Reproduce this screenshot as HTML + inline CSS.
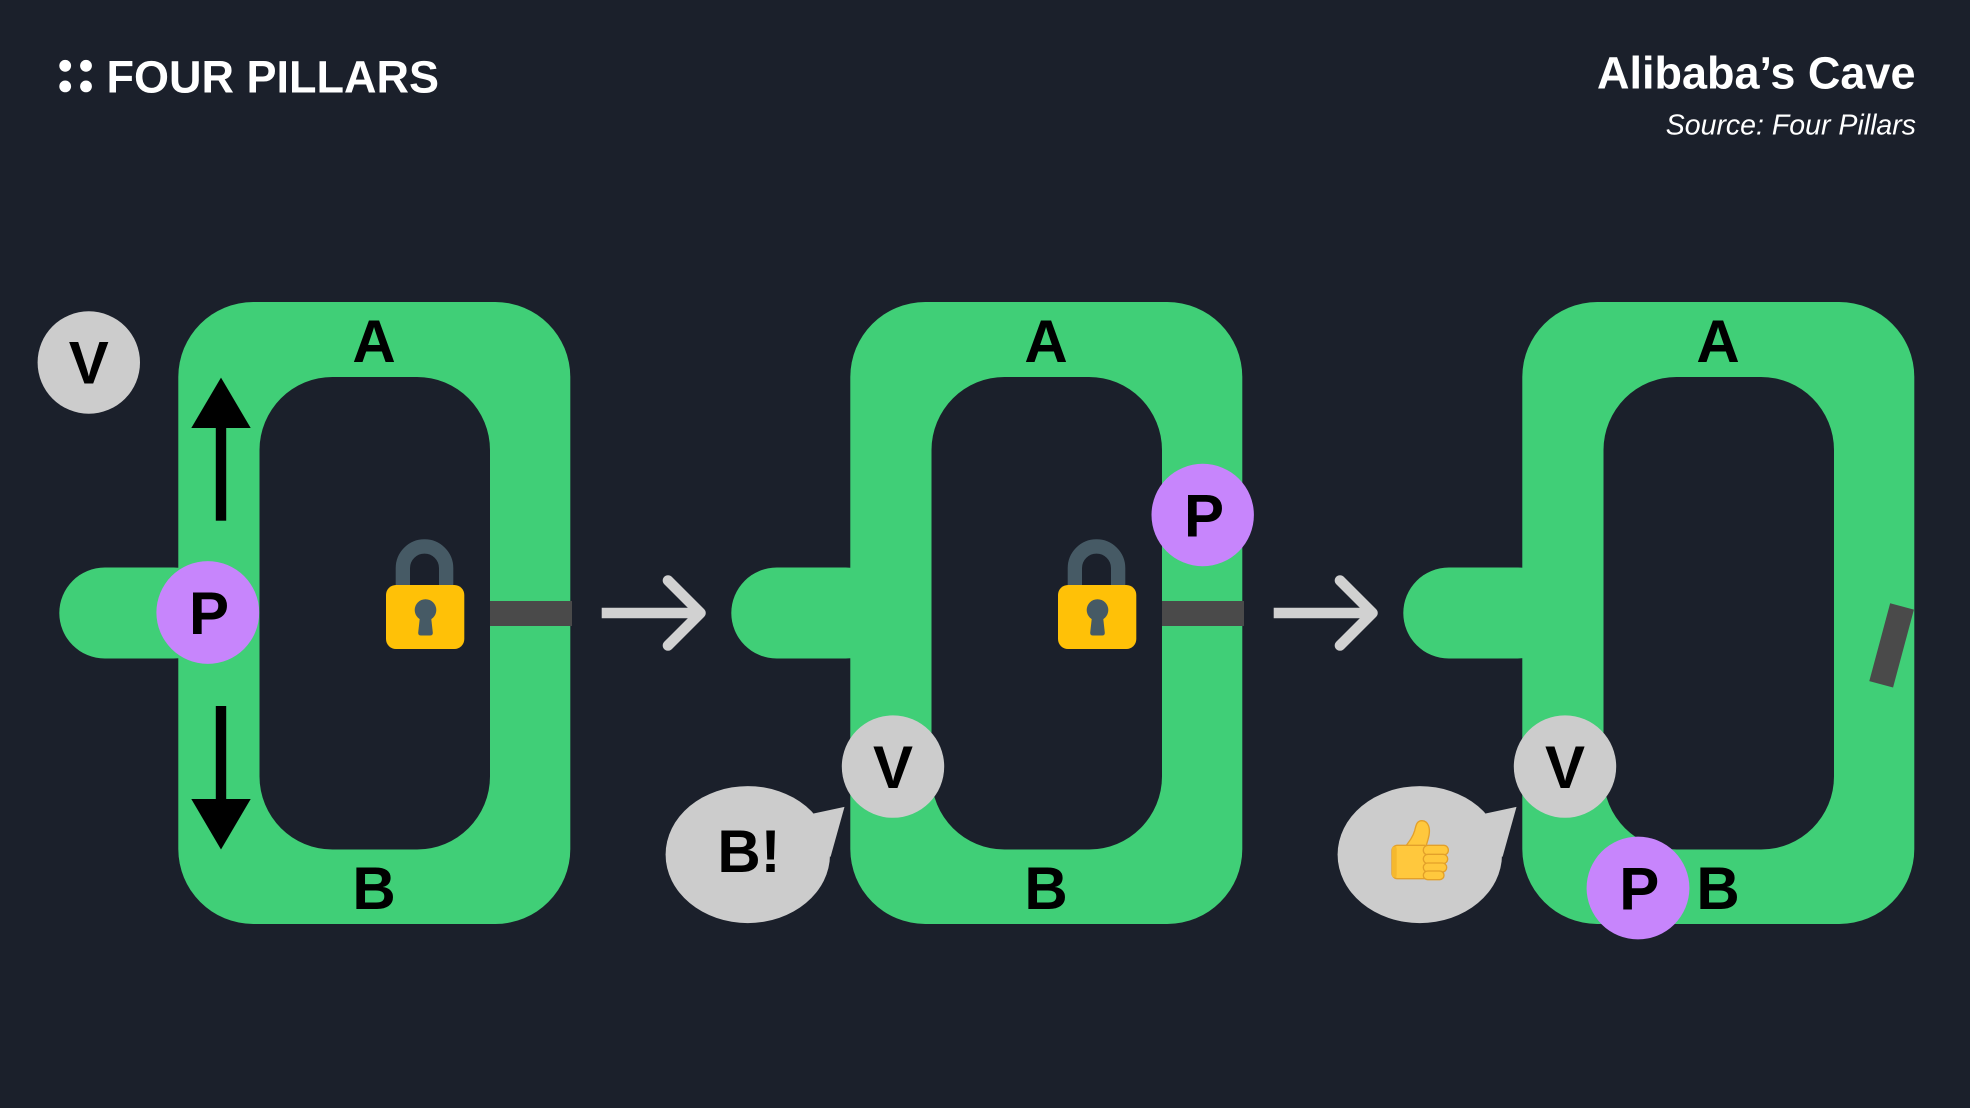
<!DOCTYPE html>
<html>
<head>
<meta charset="utf-8">
<style>
  html,body{margin:0;padding:0;background:#1b202b;}
  svg{display:block;}
  .lbl{font-family:"Liberation Sans",Arial,sans-serif;font-weight:bold;font-size:60px;fill:#000;text-anchor:middle;}
</style>
</head>
<body>
<svg width="1970" height="1108" viewBox="0 0 1970 1108" xmlns="http://www.w3.org/2000/svg">
  <rect x="0" y="0" width="1970" height="1108" fill="#1b202b"/>

  <!-- Header -->
  <circle cx="65.2" cy="65.8" r="5.9" fill="#fff"/>
  <circle cx="86" cy="65.8" r="5.9" fill="#fff"/>
  <circle cx="65.2" cy="86.4" r="5.9" fill="#fff"/>
  <circle cx="86" cy="86.4" r="5.9" fill="#fff"/>
  <text x="106.5" y="92.7" font-family="Liberation Sans, Arial, sans-serif" font-weight="bold" font-size="45" fill="#fff">FOUR PILLARS</text>
  <text x="1915.5" y="88.3" font-family="Liberation Sans, Arial, sans-serif" font-weight="bold" font-size="45" fill="#fff" text-anchor="end">Alibaba’s Cave</text>
  <text x="1916" y="134.3" font-family="Liberation Sans, Arial, sans-serif" font-style="italic" font-size="28.5" fill="#fff" text-anchor="end">Source: Four Pillars</text>

  <!-- Panel template drawn 3 times -->
  <defs>
    <g id="cave">
      <rect x="59.3" y="567.5" width="160" height="91" rx="45.5" ry="45.5" fill="#40cf77"/>
      <rect x="178.3" y="302" width="392" height="622" rx="75" ry="75" fill="#40cf77"/>
      <rect x="259.5" y="377" width="230.5" height="472.5" rx="73" ry="73" fill="#1b202b"/>
    </g>
    <g id="lock">
      <path d="M402.85 590 V568.1 A21.65 21.65 0 0 1 446.15 568.1 V590" fill="none" stroke="#465a65" stroke-width="14.3"/>
      <rect x="386" y="585" width="78.3" height="64" rx="10" ry="10" fill="#ffc107"/>
      <circle cx="425.5" cy="610" r="10.8" fill="#465a65"/>
      <path d="M420.5 612 L430.5 612 L432.8 632.5 Q433 635.5 430 635.5 L421 635.5 Q418 635.5 418.2 632.5 Z" fill="#465a65"/>
    </g>
    <g id="chev">
      <line x1="601.7" y1="613" x2="700" y2="613" stroke="#d1d1d1" stroke-width="10.6"/>
      <polyline points="668,580.5 700.5,613 668,645.5" fill="none" stroke="#d1d1d1" stroke-width="10.6" stroke-linecap="round" stroke-linejoin="round"/>
    </g>
    <g id="bubble">
      <ellipse cx="747.8" cy="854.6" rx="82.2" ry="68.5" fill="#cccccc"/>
      <polygon points="800,820 814.2,813.4 844.5,806.9 830.6,856.8 800,850" fill="#cccccc"/>
    </g>
  </defs>

  <!-- Panel 1 -->
  <use href="#cave"/>
  <rect x="490" y="601" width="82" height="25" fill="#4a4a4a"/>
  <use href="#lock"/>
  <text class="lbl" x="374" y="362">A</text>
  <text class="lbl" x="374" y="909">B</text>
  <!-- arrows -->
  <rect x="215.8" y="425" width="10.4" height="95.7" fill="#000"/>
  <polygon points="191.3,428 250.7,428 221,377.6" fill="#000"/>
  <rect x="215.8" y="706" width="10.4" height="96" fill="#000"/>
  <polygon points="191.3,799 250.7,799 221,849.5" fill="#000"/>
  <circle cx="88.8" cy="362.5" r="51.2" fill="#cccccc"/>
  <text class="lbl" x="88.8" y="383.5">V</text>
  <circle cx="207.8" cy="612.5" r="51.4" fill="#c785fc"/>
  <text class="lbl" x="209" y="634">P</text>

  <use href="#chev"/>

  <!-- Panel 2 -->
  <g transform="translate(672,0)">
    <use href="#cave"/>
    <rect x="490" y="601" width="82" height="25" fill="#4a4a4a"/>
    <use href="#lock"/>
    <text class="lbl" x="374" y="362">A</text>
    <text class="lbl" x="374" y="909">B</text>
  </g>
  <circle cx="1202.7" cy="515" r="51.2" fill="#c785fc"/>
  <text class="lbl" x="1204" y="536.5">P</text>
  <use href="#bubble"/>
  <text class="lbl" x="749" y="872">B!</text>
  <circle cx="893" cy="766.6" r="51.2" fill="#cccccc"/>
  <text class="lbl" x="893" y="788">V</text>

  <use href="#chev" transform="translate(672,0)"/>

  <!-- Panel 3 -->
  <g transform="translate(1344,0)">
    <use href="#cave"/>
    <text class="lbl" x="374" y="362">A</text>
    <text class="lbl" x="374" y="909">B</text>
  </g>
  <rect x="-12.3" y="-40.3" width="24.6" height="80.6" fill="#4a4a4a" transform="translate(1891.6,645.4) rotate(15)"/>
  <use href="#bubble" transform="translate(672,0)"/>
  <!-- thumbs up -->
  <g transform="translate(1370,800) scale(0.33333)">
    <path d="M100 148 C118 124 128 112 134 92 C138 76 140 62 156 62 C176 63 181 86 177 106 C174 121 170 131 167 142 Z" fill="#ffc83d" stroke="#e3a02a" stroke-width="4"/>
    <rect x="66" y="136" width="112" height="100" rx="16" ry="16" fill="#ffc83d" stroke="#e3a02a" stroke-width="4"/>
    <rect x="160" y="136" width="75" height="29" rx="14" ry="14" fill="#ffc83d" stroke="#e3a02a" stroke-width="4"/>
    <rect x="160" y="163" width="73" height="28" rx="14" ry="14" fill="#ffc83d" stroke="#e3a02a" stroke-width="4"/>
    <rect x="160" y="189" width="70" height="27" rx="13" ry="13" fill="#ffc83d" stroke="#e3a02a" stroke-width="4"/>
    <rect x="160" y="213" width="62" height="26" rx="13" ry="13" fill="#ffc83d" stroke="#e3a02a" stroke-width="4"/>
    <rect x="66" y="140" width="14" height="92" rx="6" ry="6" fill="#f5b82e"/>
  </g>
  <circle cx="1565" cy="766.6" r="51.2" fill="#cccccc"/>
  <text class="lbl" x="1565" y="788">V</text>
  <circle cx="1638" cy="888" r="51.4" fill="#c785fc"/>
  <text class="lbl" x="1639.3" y="909.5">P</text>
</svg>
</body>
</html>
